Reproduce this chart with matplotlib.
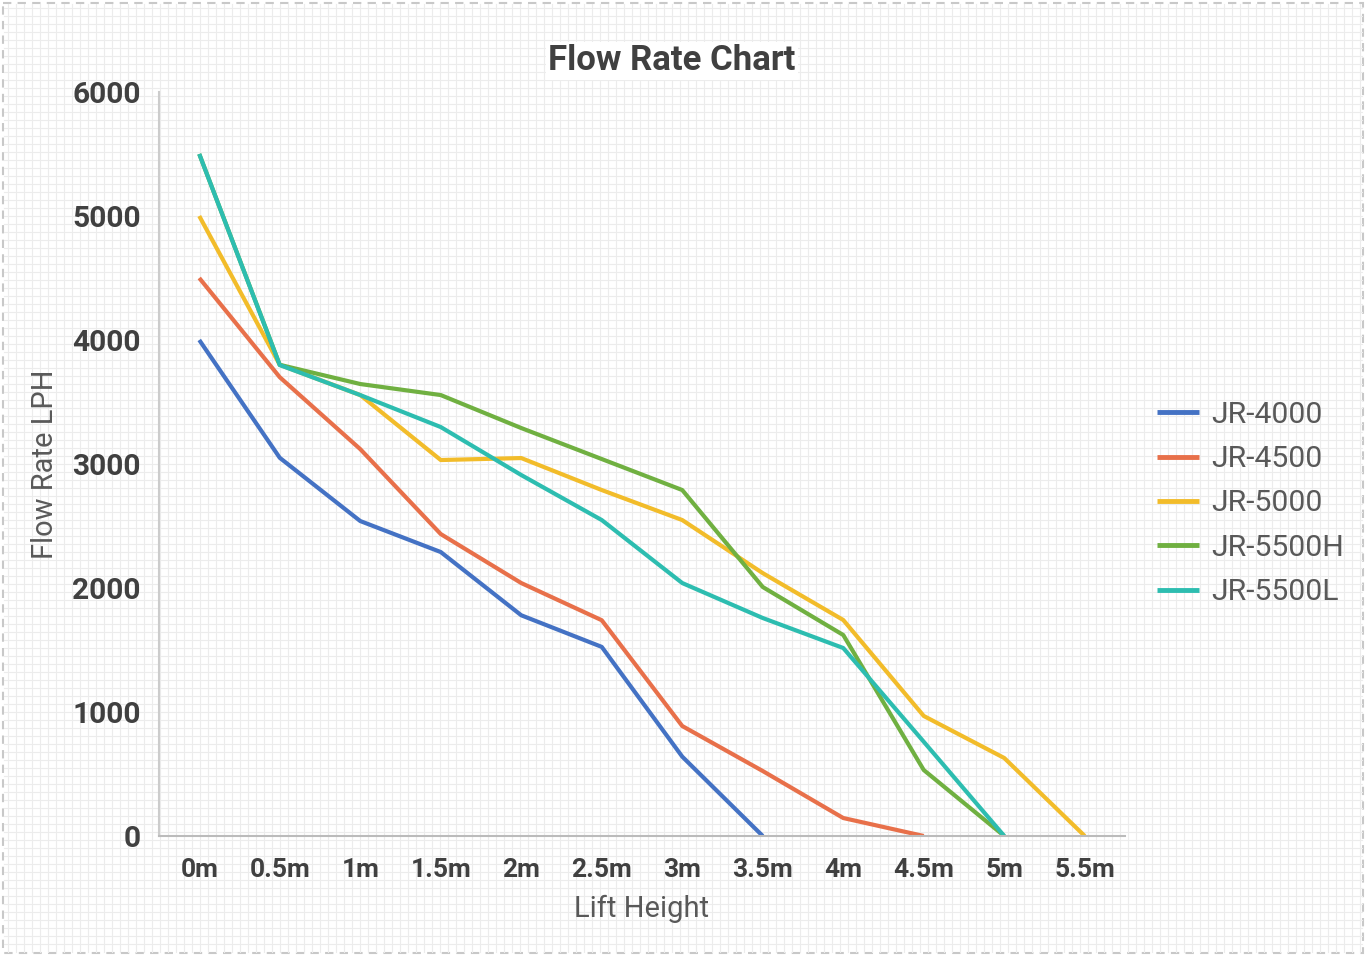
import numpy as np
import matplotlib
matplotlib.use("Agg")
import matplotlib.pyplot as plt
from matplotlib.patches import Rectangle

categories = ["0m", "0.5m", "1m", "1.5m", "2m", "2.5m", "3m", "3.5m", "4m", "4.5m", "5m", "5.5m"]
jr4000 = [4000, 3050, 2540, 2290, 1780, 1525, 640, 0]
jr4500 = [4500, 3700, 3120, 2435, 2040, 1740, 887, 524, 145, 0]
jr5000 = [5000, 3800, 3556, 3032, 3048, 2790, 2548, 2120, 1742, 968, 629, 0]
jr5500h = [5500, 3800, 3645, 3556, 3290, 3040, 2790, 2008, 1621, 532, 0]
jr5500l = [5500, 3798, 3556, 3298, 2911, 2548, 2040, 1758, 1516, 760, 0]
series_names = ["JR-4000", "JR-4500", "JR-5000", "JR-5500H", "JR-5500L"]
series = [jr4000, jr4500, jr5000, jr5500h, jr5500l]
colors = ["#4472C4", "#E8704A", "#F2BC2A", "#70B041", "#2DBDB0"]

W, H = 1368, 968
fig = plt.figure(figsize=(W / 100, H / 100), dpi=100)

# background graph-paper grid
bg = fig.add_axes([0, 0, 1, 1], zorder=0)
bg.set_xlim(0, W)
bg.set_ylim(H, 0)
bg.axis("off")
bg.add_patch(Rectangle((3, 3), W - 8, 950, facecolor="white", edgecolor="#c8c8c8",
                       linestyle=(0, (4, 3)), linewidth=1.5))
for x in np.arange(8, W - 6, 8):
    bg.plot([x, x], [4, 952], color="#ececec", lw=0.8, zorder=1)
for y in np.arange(8, 952, 8):
    bg.plot([4, W - 6], [y, y], color="#ececec", lw=0.8, zorder=1)

ax = fig.add_axes([159 / W, (H - 836) / H, (1125 - 159) / W, (836 - 92) / H], zorder=2)
ax.patch.set_alpha(0)
for name, vals, c in zip(series_names, series, colors):
    ax.plot(range(len(vals)), vals, color=c, lw=3.0, label=name, solid_capstyle="butt")

ax.set_xlim(-0.5, len(categories) - 0.5)
ax.set_ylim(0, 6000)
ax.set_xticks(range(len(categories)))
ax.set_xticklabels(categories)
ax.set_yticks([0, 1000, 2000, 3000, 4000, 5000, 6000])
ax.tick_params(length=0, colors="#404040")
ax.tick_params(axis="y", labelsize=21.5, pad=13)
ax.tick_params(axis="x", labelsize=19, pad=16)
for lab in ax.get_xticklabels() + ax.get_yticklabels():
    lab.set_fontfamily("Roboto")
    lab.set_fontweight("bold")
for s in ["top", "right"]:
    ax.spines[s].set_visible(False)
ax.spines["left"].set_color("#cccccc")
ax.spines["bottom"].set_color("#bbbbbb")
ax.spines["left"].set_linewidth(1.5)
ax.spines["bottom"].set_linewidth(1.5)

fig.text(672 / W, 1 - 61 / H, "Flow Rate Chart", ha="center", va="center",
         fontsize=25, fontweight="bold", family="Roboto", color="#404040",
         bbox=dict(facecolor="white", edgecolor="none", pad=2))
fig.text(642 / W, 1 - 909 / H, "Lift Height", ha="center", va="center",
         fontsize=21, family="Roboto", color="#595959")
fig.text(45 / W, 1 - 464 / H, "Flow Rate LPH", ha="center", va="center",
         fontsize=21, family="Roboto", color="#595959", rotation=90)

leg = fig.legend(*ax.get_legend_handles_labels(), loc="center left",
                 bbox_to_anchor=(1157 / W, 1 - 503.5 / H), bbox_transform=fig.transFigure,
                 frameon=False, prop={"family": "Roboto", "size": 21.7},
                 handlelength=1.4, handletextpad=0.4, labelspacing=0.54,
                 borderaxespad=0, borderpad=0)
for t in leg.get_texts():
    t.set_color("#595959")
for l in leg.get_lines():
    l.set_linewidth(3.5)

fig.savefig("out.png", dpi=100)
